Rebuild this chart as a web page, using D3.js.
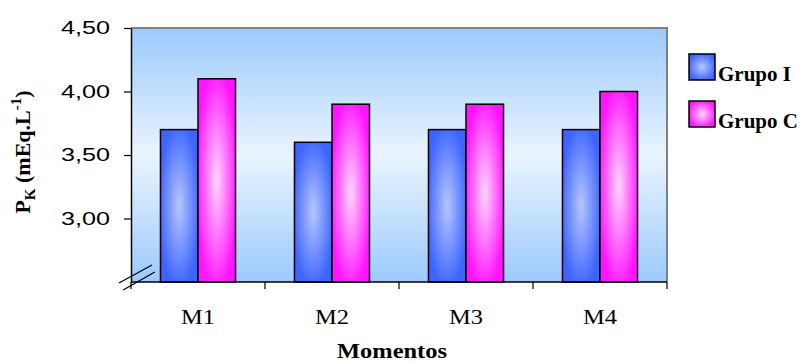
<!DOCTYPE html>
<html>
<head>
<meta charset="utf-8">
<script src="https://cdn.jsdelivr.net/npm/d3@7"></script>
<style>
  body { margin: 0; background: #fff; }
</style>
</head>
<body>
<div class="container"></div>
<script>
// data
const categories = ["M1", "M2", "M3", "M4"];
const series = ["Grupo I", "Grupo C"];
const grupoI = [3.70, 3.60, 3.70, 3.70];
const grupoC = [4.10, 3.90, 3.90, 4.00];
const yTicks = [3.00, 3.50, 4.00, 4.50];
const yDomain = [2.50, 4.50];
const xTitle = "Momentos";

const W = 812, H = 363;
const plot = {left: 131, right: 667, top: 28, bottom: 282};

const colors = {
  "Grupo I": {edge: "#3c64ff", center: "#b6c6ff"},
  "Grupo C": {edge: "#ff14ff", center: "#ffd6ff"}
};

var svg = d3.select(".container")
  .append("svg")
  .attr("width", W)
  .attr("height", H);

var defs = svg.append("defs");

var bg = defs.append("linearGradient")
  .attr("id", "bg")
  .attr("x1", 0).attr("y1", 0).attr("x2", 0).attr("y2", 1);
bg.append("stop").attr("offset", "0%").attr("stop-color", "#9ccafc");
bg.append("stop").attr("offset", "50%").attr("stop-color", "#eaf4ff");
bg.append("stop").attr("offset", "100%").attr("stop-color", "#9ccafc");

series.forEach(function(s, i) {
  var g = defs.append("radialGradient")
    .attr("id", "bar" + i)
    .attr("cx", 0.5).attr("cy", 0.5).attr("r", 0.55);
  g.append("stop").attr("offset", "0%").attr("stop-color", colors[s].center);
  g.append("stop").attr("offset", "100%").attr("stop-color", colors[s].edge);
});

var x0 = d3.scaleBand()
  .domain(categories)
  .range([plot.left, plot.right])
  .paddingInner(0.44)
  .paddingOuter(0.22);

var x1 = d3.scaleBand()
  .domain(series)
  .range([0, x0.bandwidth()]);

var y = d3.scaleLinear()
  .domain(yDomain)
  .range([plot.bottom, plot.top]);

// plot area
svg.append("rect")
  .attr("x", plot.left)
  .attr("y", plot.top)
  .attr("width", plot.right - plot.left)
  .attr("height", plot.bottom - plot.top)
  .attr("fill", "url(#bg)");

svg.append("path")
  .attr("d", "M" + plot.left + "," + plot.top + "H" + plot.right + "V" + plot.bottom)
  .attr("fill", "none")
  .attr("stroke", "#808080")
  .attr("stroke-width", 2);

// bars
var rows = categories.map(function(c, i) {
  return {cat: c, values: [grupoI[i], grupoC[i]]};
});

var groups = svg.selectAll(".grp")
  .data(rows)
  .enter().append("g")
  .attr("class", "grp")
  .attr("transform", function(d) { return "translate(" + x0(d.cat) + ",0)"; });

groups.selectAll("rect")
  .data(function(d) { return d.values.map(function(v, i) { return {s: series[i], i: i, v: v}; }); })
  .enter().append("rect")
  .attr("x", function(d) { return x1(d.s); })
  .attr("y", function(d) { return y(d.v); })
  .attr("width", x1.bandwidth())
  .attr("height", function(d) { return y(yDomain[0]) - y(d.v); })
  .attr("fill", function(d) { return "url(#bar" + d.i + ")"; })
  .attr("stroke", "#000")
  .attr("stroke-width", 1.5);

// y axis
var yAxis = d3.axisLeft(y)
  .tickValues(yTicks)
  .tickSizeInner(7)
  .tickSizeOuter(0)
  .tickPadding(14)
  .tickFormat(function(d) { return d.toFixed(2).replace(".", ","); });

var ya = svg.append("g")
  .attr("transform", "translate(" + plot.left + ",0)")
  .call(yAxis);
ya.select(".domain").attr("stroke", "#000").attr("stroke-width", 1.5);
ya.selectAll(".tick line").attr("stroke", "#000").attr("stroke-width", 1.2);
ya.selectAll(".tick text")
  .attr("font-family", "Liberation Sans, Arial, sans-serif")
  .attr("font-size", 18)
  .attr("fill", "#000")
  .attr("textLength", 49)
  .attr("lengthAdjust", "spacingAndGlyphs");

// x axis (labels at centres, ticks at band edges)
var xAxis = d3.axisBottom(x0)
  .tickSize(0)
  .tickPadding(28);

var xa = svg.append("g")
  .attr("transform", "translate(0," + plot.bottom + ")")
  .call(xAxis);
xa.select(".domain").remove();
xa.selectAll(".tick text")
  .attr("font-family", "Liberation Serif, Times New Roman, serif")
  .attr("font-size", 20)
  .attr("fill", "#000")
  .attr("textLength", 34)
  .attr("lengthAdjust", "spacingAndGlyphs");

var gap = (x0.step() - x0.bandwidth()) / 2;
var edges = categories.map(function(c) { return x0(c) - gap; })
  .concat([x0(categories[categories.length - 1]) + x0.bandwidth() + gap]);

svg.append("line")
  .attr("x1", plot.left).attr("x2", plot.right)
  .attr("y1", plot.bottom).attr("y2", plot.bottom)
  .attr("stroke", "#000").attr("stroke-width", 1.5);

svg.selectAll(".xtick")
  .data(edges)
  .enter().append("line")
  .attr("class", "xtick")
  .attr("x1", function(d) { return d; }).attr("x2", function(d) { return d; })
  .attr("y1", plot.bottom).attr("y2", plot.bottom + 7)
  .attr("stroke", "#000").attr("stroke-width", 1.2);

// axis break marks
[0, 7].forEach(function(o) {
  svg.append("line")
    .attr("x1", plot.left - 12 + o * 0.6).attr("y1", plot.bottom + 1 + o)
    .attr("x2", plot.left + 21 + o * 0.4).attr("y2", plot.bottom - 17 + o)
    .attr("stroke", "#000").attr("stroke-width", 1.3);
});

// axis titles
svg.append("text")
  .attr("x", 392)
  .attr("y", 358)
  .attr("text-anchor", "middle")
  .attr("font-family", "Liberation Serif, Times New Roman, serif")
  .attr("font-weight", "bold")
  .attr("font-size", 22)
  .attr("textLength", 110)
  .attr("lengthAdjust", "spacingAndGlyphs")
  .text(xTitle);

var yt = svg.append("text")
  .attr("transform", "translate(30,152) rotate(-90)")
  .attr("text-anchor", "middle")
  .attr("font-family", "Liberation Serif, Times New Roman, serif")
  .attr("font-weight", "bold")
  .attr("font-size", 22);
yt.append("tspan").text("P");
yt.append("tspan").attr("dy", 5).attr("font-size", 15).text("K");
yt.append("tspan").attr("dy", -5).text(" (mEq.L");
yt.append("tspan").attr("dy", -9).attr("font-size", 15).text("-1");
yt.append("tspan").attr("dy", 9).text(")");

// legend
var leg = svg.selectAll(".leg")
  .data(series)
  .enter().append("g")
  .attr("class", "leg")
  .attr("transform", function(d, i) { return "translate(689," + (54 + i * 47) + ")"; });

leg.append("rect")
  .attr("width", 26).attr("height", 26)
  .attr("fill", function(d, i) { return "url(#bar" + i + ")"; })
  .attr("stroke", "#000")
  .attr("stroke-width", 1.5);

leg.append("text")
  .attr("x", 29)
  .attr("y", 27)
  .attr("font-family", "Liberation Serif, Times New Roman, serif")
  .attr("font-weight", "bold")
  .attr("font-size", 21)
  .text(function(d) { return d; });
</script>
</body>
</html>
